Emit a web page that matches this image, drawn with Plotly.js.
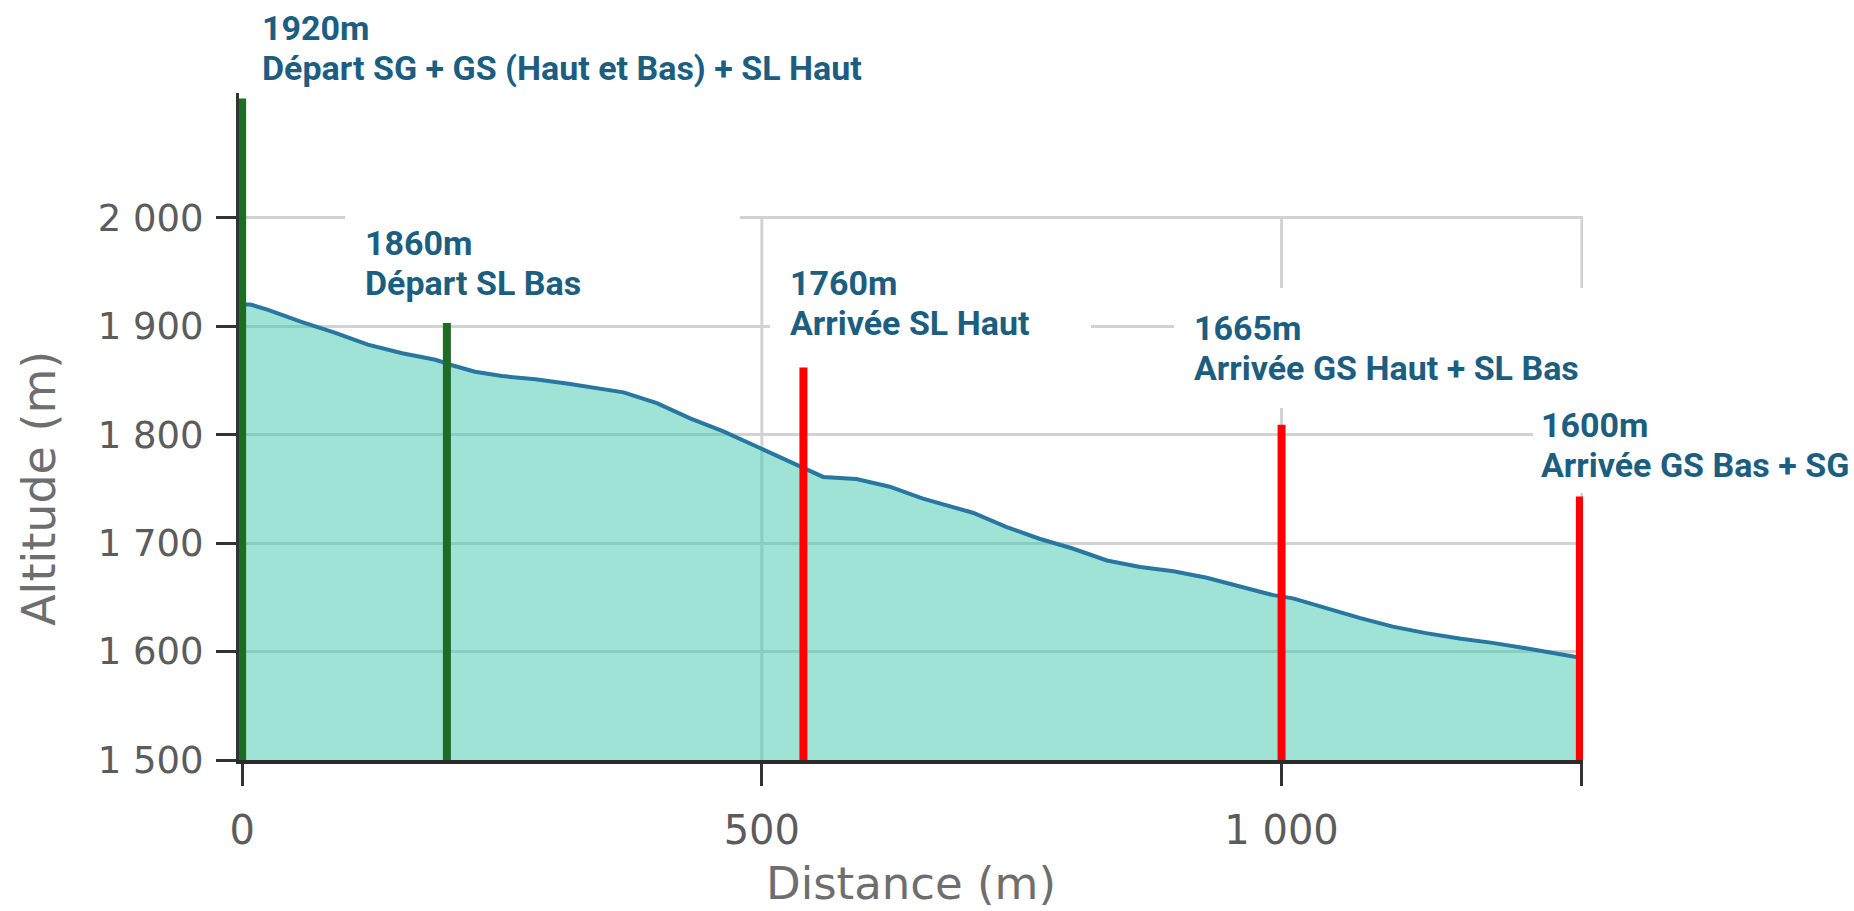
<!DOCTYPE html>
<html>
<head>
<meta charset="utf-8">
<script src="https://cdn.plot.ly/plotly-3.0.1.min.js"></script>
<style>
html, body { margin: 0; padding: 0; background: #ffffff; }
#chart { width: 1854px; height: 911px; }
</style>
</head>
<body>
<div id="chart"></div>
<script>
// ---- Data ----
const distance = [0, 8, 25, 57, 89, 121, 154, 186, 202, 224, 250, 282, 314, 339, 367, 399, 431, 463, 495, 521, 540, 559, 591, 623, 655, 681, 703, 735, 767, 799, 832, 864, 896, 928, 960, 992, 1011, 1043, 1075, 1107, 1139, 1171, 1203, 1235, 1260, 1289];
const altitude = [1920, 1920, 1915, 1904, 1894, 1883, 1875, 1869, 1864, 1858, 1854, 1851, 1847, 1843, 1839, 1829, 1815, 1803, 1789, 1777, 1769, 1761, 1759, 1752, 1741, 1734, 1728, 1715, 1704, 1695, 1684, 1678, 1674, 1668, 1660, 1652, 1649, 1640, 1631, 1623, 1617, 1612, 1608, 1603, 1599, 1594];

const markerDistance = [0, 197, 540, 1000, 1287];
const markerTop = [2110, 1910, 1862, 1809, 1743];
const markerKind = ['depart', 'depart', 'arrivee', 'arrivee', 'arrivee'];

const labelAltitude = ['1920m', '1860m', '1760m', '1665m', '1600m'];
const labelText = [
  'Départ SG + GS (Haut et Bas) + SL Haut',
  'Départ SL Bas',
  'Arrivée SL Haut',
  'Arrivée GS Haut + SL Bas',
  'Arrivée GS Bas + SG'
];

const yTickVals = [1500, 1600, 1700, 1800, 1900, 2000];
const yTickText = ['1 500', '1 600', '1 700', '1 800', '1 900', '2 000'];
const xTickVals = [0, 500, 1000, 1289];
const xTickText = ['0', '500', '1 000', ''];
const xGridDistance = [500, 1000, 1289];

// ---- Styles / layout positions ----
const kindColor = { depart: '#1e6b24', arrivee: '#ff0000' };
const labelColor = '#1b5e80';
const axisTextColor = '#5c5c5c';
const gridColor = '#d2d2d2';
const labelBoxes = [
  { xref: 'x', yref: 'paper', x: 19.1,   y: 1.1279, pad: 0,  width: null, bg: 'rgba(0,0,0,0)' },
  { xref: 'x', yref: 'y',     x: 99.0,   y: 2013.8, pad: 20, width: 355,  bg: '#ffffff' },
  { xref: 'x', yref: 'y',     x: 507.7,  y: 1976.9, pad: 20, width: 281,  bg: '#ffffff' },
  { xref: 'x', yref: 'y',     x: 896.7,  y: 1935.5, pad: 20, width: 420,  bg: '#ffffff' },
  { xref: 'x', yref: 'y',     x: 1242.0, y: 1834.9, pad: 8,  width: null, bg: '#ffffff' }
];

const traces = [];

// vertical grid lines (from 1500 to 2000 only)
const gx = [], gy = [];
xGridDistance.forEach(function (d) {
  gx.push(d, d, null);
  gy.push(yTickVals[0], yTickVals[yTickVals.length - 1], null);
});
traces.push({
  type: 'scatter', mode: 'lines', x: gx, y: gy,
  line: { color: gridColor, width: 3 },
  hoverinfo: 'skip', showlegend: false
});

// elevation profile
traces.push({
  type: 'scatter', mode: 'lines', x: distance, y: altitude,
  fill: 'tozeroy', fillcolor: 'rgba(64,200,176,0.5)',
  line: { color: '#2877a0', width: 4 },
  hoverinfo: 'x+y', showlegend: false
});

// start / finish markers
markerDistance.forEach(function (d, i) {
  traces.push({
    type: 'scatter', mode: 'lines',
    x: [d, d], y: [yTickVals[0], markerTop[i]],
    line: { color: kindColor[markerKind[i]], width: 8 },
    hoverinfo: 'skip', showlegend: false
  });
});

const annotations = labelAltitude.map(function (alt, i) {
  const b = labelBoxes[i];
  const a = {
    xref: b.xref, yref: b.yref, x: b.x, y: b.y,
    xanchor: 'left', yanchor: 'top', align: 'left', valign: 'top',
    showarrow: false,
    text: '<span style="font-size:34px">' + alt + '</span><br><span style="font-size:34px">' + labelText[i] + '</span>',
    font: { family: 'Roboto, Liberation Sans, Arial, sans-serif', size: 31, color: labelColor, weight: 'bold' },
    bgcolor: b.bg, borderpad: b.pad, borderwidth: 0
  };
  if (b.width) a.width = b.width;
  return a;
});

annotations.push({
  xref: 'paper', yref: 'y', x: -0.1488, y: 1750,
  xanchor: 'center', yanchor: 'middle',
  textangle: -90, showarrow: false,
  text: 'Altitude (m)',
  font: { family: 'DejaVu Sans, Verdana, sans-serif', size: 46, color: '#6e6e6e' }
});

const layout = {
  width: 1854, height: 911,
  margin: { l: 239, r: 271, t: 93, b: 151, pad: 0 },
  paper_bgcolor: '#ffffff', plot_bgcolor: '#ffffff',
  showlegend: false,
  xaxis: {
    range: [-3, 1290],
    tickvals: xTickVals, ticktext: xTickText,
    ticks: 'outside', ticklen: 22, tickwidth: 3, tickcolor: '#333333',
    showgrid: false, zeroline: false,
    showline: true, linecolor: '#2b2b2b', linewidth: 4,
    layer: 'below traces',
    ticklabelstandoff: 10,
    tickfont: { family: 'DejaVu Sans, Verdana, sans-serif', size: 40, color: axisTextColor },
    title: { text: 'Distance (m)', standoff: 16, font: { family: 'DejaVu Sans, Verdana, sans-serif', size: 45, color: '#6e6e6e' } },
    fixedrange: true
  },
  yaxis: {
    range: [1500, 2115],
    tickvals: yTickVals, ticktext: yTickText,
    ticks: 'outside', ticklen: 20, tickwidth: 3, tickcolor: '#333333',
    showgrid: true, gridcolor: gridColor, gridwidth: 3,
    zeroline: false,
    showline: true, linecolor: '#333333', linewidth: 3,
    layer: 'below traces',
    ticklabelstandoff: 5,
    tickfont: { family: 'DejaVu Sans, Verdana, sans-serif', size: 37, color: axisTextColor },
    fixedrange: true
  },
  annotations: annotations
};

Plotly.newPlot('chart', traces, layout, { displayModeBar: false, responsive: false });
</script>
</body>
</html>
